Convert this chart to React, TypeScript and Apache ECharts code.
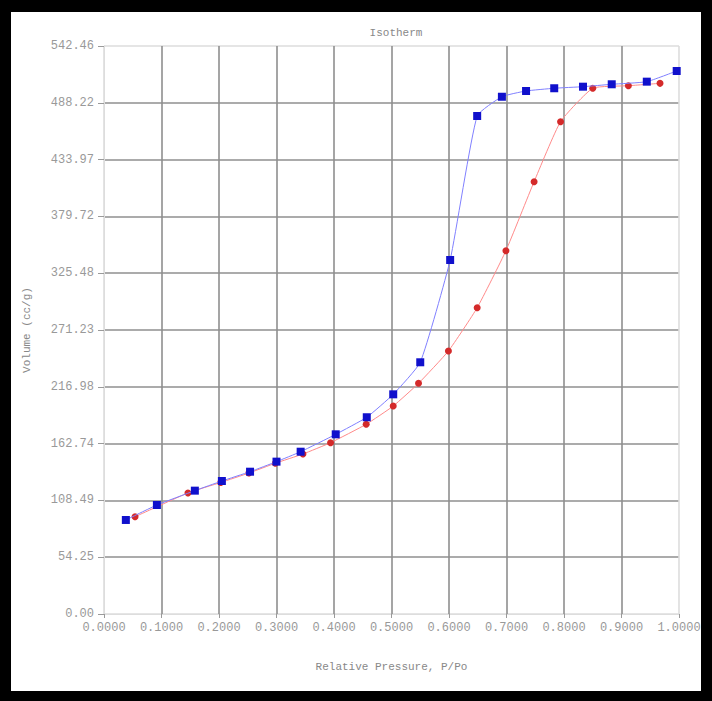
import React, { useEffect, useRef } from "react";
import * as echarts from "echarts";

const blueX = [0.038, 0.092, 0.158, 0.205, 0.254, 0.300, 0.342, 0.403, 0.457, 0.503, 0.550, 0.602, 0.649, 0.692, 0.734, 0.783, 0.833, 0.883, 0.944, 0.996];
const blueY = [89.8, 104.1, 117.8, 127.0, 135.9, 145.5, 155.0, 171.6, 187.9, 209.8, 240.4, 338.1, 475.6, 494.0, 499.5, 502.1, 503.6, 505.9, 508.4, 518.6];

const redX = [0.054, 0.146, 0.203, 0.252, 0.298, 0.346, 0.394, 0.456, 0.503, 0.547, 0.599, 0.649, 0.699, 0.748, 0.794, 0.850, 0.912, 0.967];
const redY = [92.9, 115.6, 125.6, 134.6, 144.0, 152.8, 163.6, 181.2, 198.6, 220.3, 251.2, 292.5, 347.0, 412.9, 470.2, 502.1, 504.5, 506.8];

const yMax = 542.462;
const yInterval = 54.2462;
const xTickInterval = 0.1;

const titleText = "Isotherm";
const xName = "Relative Pressure, P/Po";
const yName = "Volume (cc/g)";

const FONT = "'Liberation Mono', 'DejaVu Sans Mono', monospace";

export default function App() {
  const ref = useRef<HTMLDivElement>(null);
  useEffect(() => {
    if (!ref.current) return;
    const chart = echarts.init(ref.current, null, { renderer: "svg" });
    const ySplitColors: string[] = [];
    for (let i = 0; i <= 10; i++) ySplitColors.push(i === 0 || i === 10 ? "#dddddd" : "#8f8f8f");
    const xSplitColors: string[] = [];
    for (let i = 0; i <= 10; i++) xSplitColors.push(i === 0 || i === 10 ? "#dddddd" : "#8f8f8f");
    chart.setOption({
      animation: false,
      backgroundColor: "#ffffff",
      title: {
        text: titleText,
        left: 391,
        textAlign: "center",
        top: 22,
        textStyle: { fontFamily: FONT, fontSize: 11, fontWeight: "normal", color: "#888888" },
      },
      grid: { left: 104, right: 33, top: 46, bottom: 87, containLabel: false },
      xAxis: {
        type: "value",
        min: 0,
        max: 1,
        interval: xTickInterval,
        name: xName,
        nameLocation: "middle",
        nameGap: 47,
        nameTextStyle: { fontFamily: FONT, fontSize: 11, color: "#888888" },
        axisLine: { show: true, lineStyle: { color: "#dddddd", width: 1 } },
        axisTick: { show: true, length: 4, lineStyle: { color: "#9a9a9a" } },
        axisLabel: {
          fontFamily: FONT,
          fontSize: 12,
          color: "#999999",
          margin: 8,
          formatter: (v: number) => v.toFixed(4),
        },
        splitLine: { show: true, lineStyle: { color: xSplitColors, width: 1.6 } },
      },
      yAxis: {
        type: "value",
        min: 0,
        max: yMax,
        interval: yInterval,
        name: yName,
        nameLocation: "middle",
        nameGap: 72,
        nameRotate: 90,
        nameTextStyle: { fontFamily: FONT, fontSize: 11, color: "#888888" },
        axisLine: { show: true, lineStyle: { color: "#dddddd", width: 1 } },
        axisTick: { show: true, length: 6, lineStyle: { color: "#9a9a9a" } },
        axisLabel: {
          fontFamily: FONT,
          fontSize: 12,
          color: "#999999",
          margin: 10,
          formatter: (v: number) => v.toFixed(2),
        },
        splitLine: { show: true, lineStyle: { color: ySplitColors, width: 1.6 } },
      },
      graphic: [
        { type: "rect", z: 100, shape: { x: 0, y: 0, width: 11, height: 701 }, style: { fill: "#000000" } },
        { type: "rect", z: 100, shape: { x: 701, y: 0, width: 11, height: 701 }, style: { fill: "#000000" } },
        { type: "rect", z: 100, shape: { x: 0, y: 0, width: 712, height: 12 }, style: { fill: "#000000" } },
        { type: "rect", z: 100, shape: { x: 0, y: 691, width: 712, height: 10 }, style: { fill: "#000000" } },
      ],
      series: [
        {
          type: "line",
          name: "Desorption",
          data: redX.map((x, i) => [x, redY[i]]),
          smooth: 0.15,
          symbol: "circle",
          symbolSize: 7,
          lineStyle: { color: "#ff8a8a", width: 1 },
          itemStyle: { color: "#d42a2a" },
          z: 2,
        },
        {
          type: "line",
          name: "Adsorption",
          data: blueX.map((x, i) => [x, blueY[i]]),
          smooth: 0.15,
          symbol: "rect",
          symbolSize: 8,
          lineStyle: { color: "#8080ff", width: 1 },
          itemStyle: { color: "#1010cc" },
          z: 3,
        },
      ],
    });
    return () => chart.dispose();
  }, []);
  return (
    <div
      ref={ref}
      style={{ position: "fixed", left: 0, top: 0, width: 712, height: 701 }}
    />
  );
}
